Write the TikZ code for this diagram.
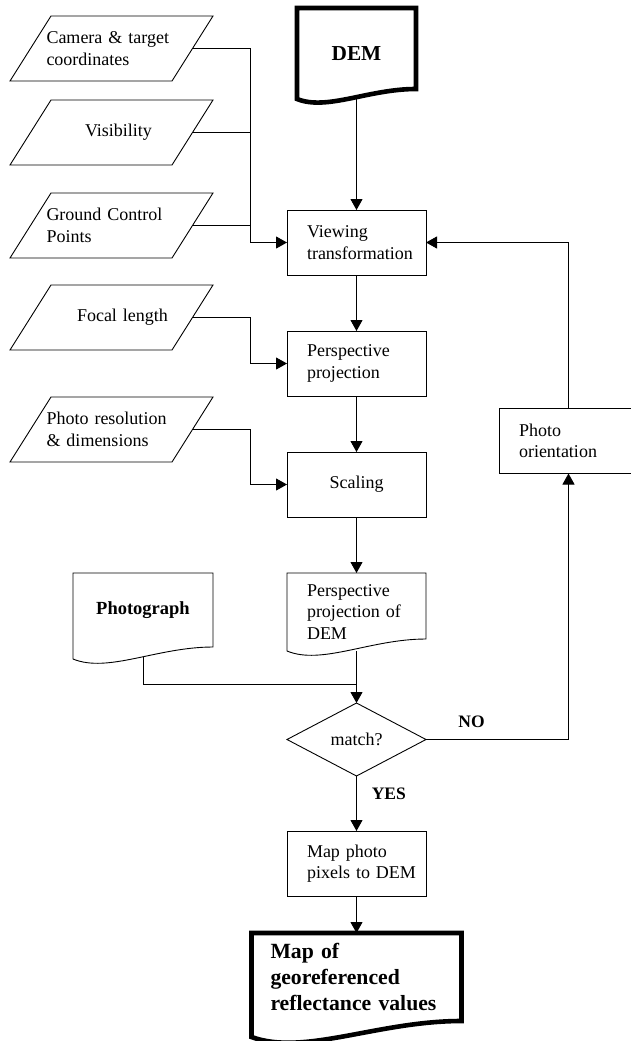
\documentclass[tikz,border=0pt]{standalone}
\usepackage{fontspec}
\setmainfont{Liberation Serif}
\usetikzlibrary{positioning, arrows.meta, calc, shapes.geometric}
\hyphenpenalty=10000

% document outline with a wavy foot: #2 node, #3 right foot offset, #4 left foot offset
\newcommand{\docframe}[4][]{%
  \draw[#1] ($(#2.south west)+(0,#4)$) -- (#2.north west) -- (#2.north east)
    -- ($(#2.south east)+(0,#3)$)
    .. controls ($(#2.south east)!0.4!(#2.south west)+(0,#3)$)
           and ($(#2.south east)!0.75!(#2.south west)+(0,{(#4)-1.2*((#3)-(#4))})$)
    .. ($(#2.south west)+(0,#4)$) -- cycle;}

% slanted input/output outline round an invisible node
\newcommand{\slantframe}[1]{%
  \draw ($(#1.south west)+(-20.5,0)$) -- ($(#1.south east)+(-20.5,0)$)
    -- ($(#1.north east)+(20.5,0)$) -- ($(#1.north west)+(20.5,0)$) -- cycle;}

\begin{document}
\begin{tikzpicture}[
  x=1pt, y=1pt, line width=0.9pt,
  every node/.style={font=\fontsize{18}{21.5}\selectfont, outer sep=0pt},
  arr/.style={-{Triangle[length=11pt, width=12pt]}},
  procbox/.style={draw, rectangle, minimum width=139pt, minimum height=65pt,
                  text width=99pt, inner xsep=20pt, align=left},
  datain/.style={rectangle, minimum width=162pt, minimum height=65pt,
                 text width=130pt, inner sep=0pt, align=left},
  docbox/.style={rectangle, minimum width=139pt, text width=99pt,
                 inner xsep=20pt, align=left},
  decide/.style={diamond, draw, minimum width=139pt, minimum height=73pt, inner sep=0pt},
  lbl/.style={font=\bfseries\fontsize{17.5}{21}\selectfont}
]
\useasboundingbox (0,0) rectangle (631,-1041);

% ---- Inputs on the left ----
\node[datain] (cam) at (111.5,-48.5) {Camera \& target\\coordinates};
\node[datain, below=19pt of cam] (vis) {\hspace*{38.5pt}Visibility};
\node[datain, below=28pt of vis] (gcp) {Ground Control\\Points};
\node[datain, below=27pt of gcp] (focal) {\hspace*{30.5pt}Focal length};
\node[datain, below=47pt of focal] (pres) {Photo resolution\\\& dimensions};
\foreach \n in {cam, vis, gcp, focal, pres} {\slantframe{\n}}

% ---- Main column ----
\node[procbox] (view) at (356.5,-242.5) {Viewing\\transformation};
\node[procbox, below=56pt of view] (persp) {Perspective\\projection};
\node[procbox, below=56pt of persp, align=center] (scale) {Scaling};
\node[docbox, minimum height=78pt, below=56pt of scale] (pdem)
  {Perspective\\projection~of\\DEM};
\node[decide, below=52pt of pdem] (match) {match?};
\node[procbox, below=55pt of match] (mapph) {Map photo\\pixels~to~DEM};
\node[docbox, minimum width=210pt, minimum height=88pt, text width=172pt, inner xsep=19pt,
      font=\bfseries\fontsize{21.7}{26}\selectfont, below=37pt of mapph] (refl)
  {Map of\\georeferenced\\reflectance~values};
\node[docbox, minimum width=119pt, minimum height=91pt, text width=79pt, align=center,
      font=\bfseries\fontsize{21.3}{26}\selectfont, above=111pt of view] (dem)
  {DEM\hspace*{10pt}};

% ---- Side shapes ----
\node[docbox, minimum width=140pt, minimum height=74pt, text width=100pt, align=center,
      font=\bfseries\fontsize{18.5}{21}\selectfont,
      left=74pt of pdem.north west, anchor=north east] (photo) {Photograph};
\node[procbox] (orient) at (568.5,-441) {Photo\\orientation};

\docframe[line width=4.6pt]{dem}{10}{0}
\docframe{pdem}{12}{0}
\docframe{photo}{0}{-12}
\docframe[line width=4.6pt]{refl}{0}{-16}

% ---- Connectors ----
\coordinate (busA) at ($(view.west)+(-37,0)$);
\coordinate (busB) at ($(persp.west)+(-37,0)$);
\coordinate (busC) at ($(scale.west)+(-37,0)$);
\coordinate (merge) at ($(match.north)+(0,19)$);

\draw (cam.east) -| (busA);
\draw (vis.east) -- (vis.east -| busA);
\draw (gcp.east) -- (gcp.east -| busA);
\draw[arr] (busA) -- (view.west);
\draw[arr] (dem.south) -- (view.north);
\draw[arr] (view.south) -- (persp.north);
\draw[arr] (focal.east) -| (busB) -- (persp.west);
\draw[arr] (persp.south) -- (scale.north);
\draw[arr] (pres.east) -| (busC) -- (scale.west);
\draw[arr] (scale.south) -- (pdem.north);
\draw[arr] (pdem.south) -- (match.north);
\draw ($(photo.south)+(0,-10)$) |- (merge);

% ---- Decision and feedback ----
\draw[arr] (match.east) -| node[lbl, pos=0.16, above=9pt] (no) {NO} (orient.south);
\draw[arr] (orient.north) |- (view.east);
\draw[arr] (match.south) -- node[lbl, pos=0.33, right=12pt] (yes) {YES} (mapph.north);
\draw[arr] (mapph.south) -- (refl.north);

\end{tikzpicture}
\end{document}
